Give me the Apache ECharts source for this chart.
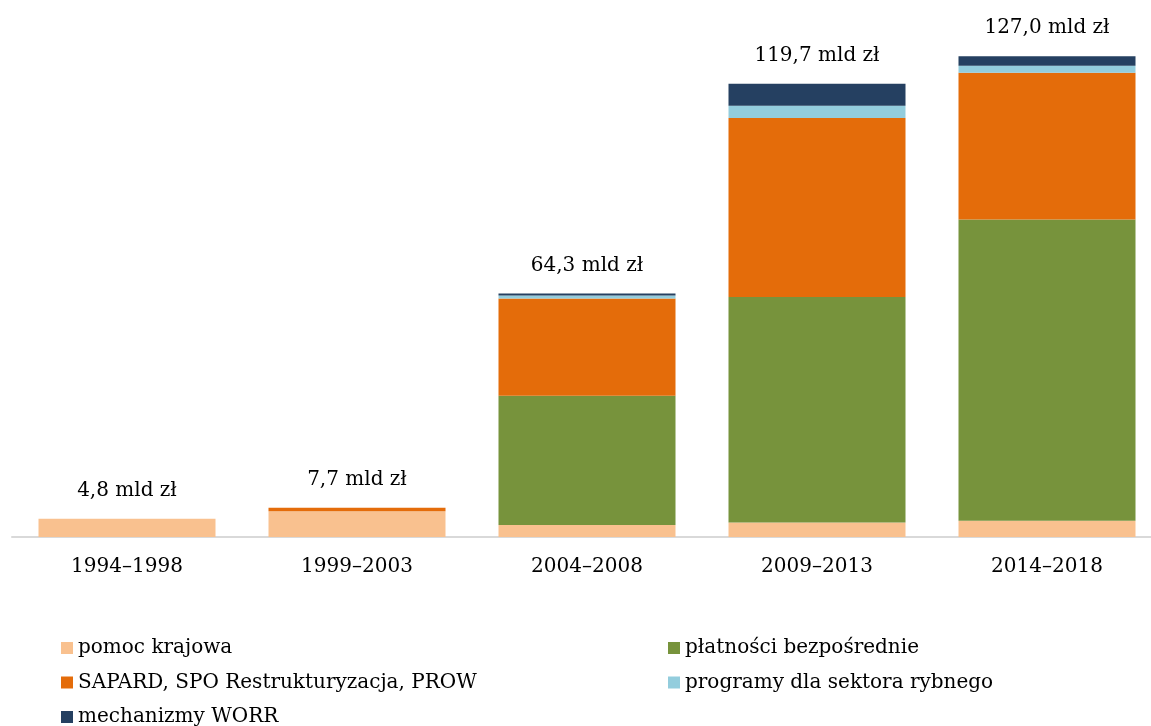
<!DOCTYPE html>
<html><head><meta charset="utf-8">
<script src="https://cdn.jsdelivr.net/npm/echarts@6/dist/echarts.min.js"></script>
<style>html,body{margin:0;padding:0;background:#fff}#c{width:1151px;height:726px}</style>
</head><body><div id="c"></div>
<script>
const categories = ['1994–1998','1999–2003','2004–2008','2009–2013','2014–2018'];
const pomoc = [4.8, 6.8, 3.2, 3.8, 4.3];
const platnosci = [0, 0, 34.1, 59.6, 79.6];
const sapard = [0, 0.9, 25.7, 47.3, 38.7];
const rybne = [0, 0, 0.8, 3.2, 1.9];
const worr = [0, 0, 0.5, 5.8, 2.5];
const totals = [4.8, 7.7, 64.3, 119.7, 127.0];
const names = ['pomoc krajowa','płatności bezpośrednie','SAPARD, SPO Restrukturyzacja, PROW','programy dla sektora rybnego','mechanizmy WORR'];
const colors = ['#F9C18F','#77933C','#E46C0A','#93CDDD','#254061'];
const font = 'DejaVu Serif';
const chart = echarts.init(document.getElementById('c'));
const mk = (name, data, color) => ({name, type:'bar', stack:'s', data, barWidth:177, itemStyle:{color}});
const legendPos = [[61,636],[668,636],[61,670.5],[668,670.5],[61,705]];
const legends = names.map((n,i) => ({
  left:legendPos[i][0], top:legendPos[i][1], itemWidth:12, itemHeight:12, icon:'rect',
  padding:0, data:[n], selectedMode:false,
  textStyle:{fontFamily:font, fontSize:20, color:'#000', lineHeight:24}
}));
chart.setOption({
  animation:false,
  grid:{left:12, right:-11, top:7, bottom:189, outerBoundsMode:'none'},
  xAxis:{type:'category', data:categories, axisTick:{show:false},
    axisLine:{lineStyle:{color:'#D9D9D9', width:2}},
    axisLabel:{color:'#000', fontFamily:font, fontSize:20, margin:20}},
  yAxis:{type:'value', min:0, max:140, show:false, splitLine:{show:false}},
  legend:legends,
  series:[
    mk(names[0], pomoc, colors[0]),
    mk(names[1], platnosci, colors[1]),
    mk(names[2], sapard, colors[2]),
    mk(names[3], rybne, colors[3]),
    mk(names[4], worr, colors[4]),
    {type:'scatter', data:totals, symbolSize:0, silent:true, itemStyle:{opacity:1},
     label:{show:true, position:'top', distance:18, fontFamily:font, fontSize:20, color:'#000', opacity:1,
       formatter:p=>totals[p.dataIndex].toFixed(1).replace('.',',')+' mld zł'}}
  ]
});
</script></body></html>
